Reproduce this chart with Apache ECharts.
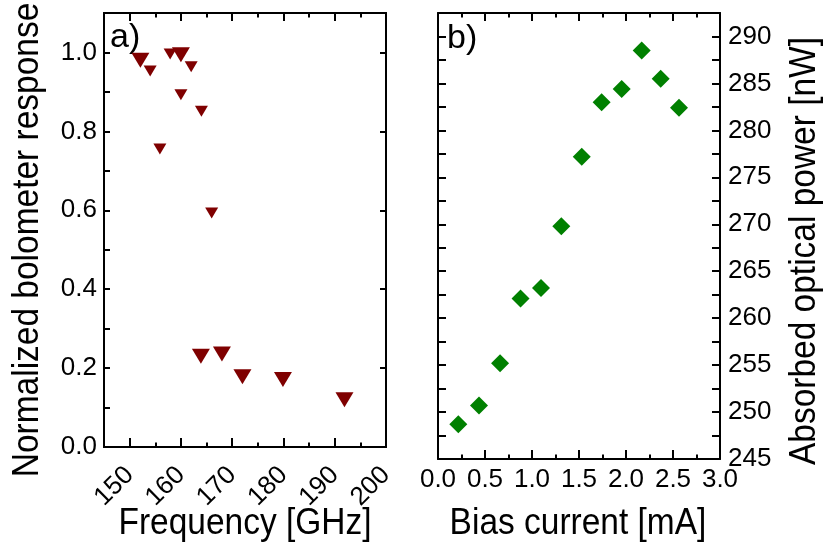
<!DOCTYPE html>
<html>
<head>
<meta charset="utf-8">
<script src="https://cdn.jsdelivr.net/npm/echarts@6/dist/echarts.min.js"></script>
<style>html,body{margin:0;padding:0;background:#fff}#c{width:827px;height:557px}</style>
</head>
<body>
<div id="c"></div>
<script>
// Panel a) : normalized bolometer response vs frequency
var freqLarge = [152.1, 160.0, 163.9, 168.0, 172.0, 179.9, 191.9];
var respLarge = [0.980, 0.994, 0.230, 0.236, 0.178, 0.171, 0.120];
var freqSmall = [154.0, 155.9, 157.9, 160.0, 162.0, 164.0, 166.0];
var respSmall = [0.953, 0.755, 0.996, 0.893, 0.964, 0.851, 0.593];
// Panel b) : absorbed optical power vs bias current
var biasCurrent = [0.216, 0.436, 0.660, 0.878, 1.096, 1.312, 1.529, 1.741, 1.954, 2.167, 2.369, 2.564];
var absorbedPower = [248.7, 250.7, 255.2, 262.1, 263.2, 269.8, 277.2, 283.0, 284.4, 288.5, 285.5, 282.4];
// Tick labels
var freqTicks = [150, 160, 170, 180, 190, 200];
var respTicks = ['0.0', '0.2', '0.4', '0.6', '0.8', '1.0'];
var biasTicks = ['0.0', '0.5', '1.0', '1.5', '2.0', '2.5', '3.0'];
var powerTicks = [245, 250, 255, 260, 265, 270, 275, 280, 285, 290];

var FONT = 'Liberation Sans, Arial, Helvetica, sans-serif';
var BLACK = '#000';
function zip(a, b) { return a.map(function (v, i) { return [v, b[i]]; }); }
function line() { return { show: true, onZero: false, lineStyle: { color: BLACK, width: 2 } }; }
function ticks(len) { return { show: true, inside: true, length: len, lineStyle: { color: BLACK, width: 2 } }; }
function noLabel() { return { show: false }; }
var labelStyle = { color: BLACK, fontSize: 26, fontFamily: FONT };

var chart = echarts.init(document.getElementById('c'), null, { renderer: 'canvas' });
var option = {
  animation: false,
  backgroundColor: '#fff',
  grid: [
    { left: 104, top: 13, width: 282, height: 434, containLabel: false, outerBoundsMode: 'none' },
    { left: 438, top: 13, width: 282, height: 446, containLabel: false, outerBoundsMode: 'none' }
  ],
  xAxis: [
    { gridIndex: 0, type: 'value', position: 'bottom', min: 145, max: 200,
      axisLine: line(), axisTick: ticks(9), splitLine: { show: false },
      axisLabel: Object.assign({ rotate: 45, margin: 24, formatter: function (v) {
        return freqTicks.indexOf(Math.round(v)) >= 0 && Math.abs(v - Math.round(v)) < 1e-6 ? String(Math.round(v)) : ''; } }, labelStyle) },
    { gridIndex: 0, type: 'value', position: 'bottom', min: 145, max: 200, interval: 5,
      axisLine: line(), axisTick: ticks(4.5), splitLine: { show: false }, axisLabel: noLabel() },
    { gridIndex: 0, type: 'value', position: 'top', min: 145, max: 200,
      axisLine: line(), axisTick: ticks(8), splitLine: { show: false }, axisLabel: noLabel() },
    { gridIndex: 0, type: 'value', position: 'top', min: 145, max: 200, interval: 5,
      axisLine: line(), axisTick: ticks(4.5), splitLine: { show: false }, axisLabel: noLabel() },
    { gridIndex: 1, type: 'value', position: 'bottom', min: 0, max: 3, interval: 0.5,
      axisLine: line(), axisTick: ticks(9), splitLine: { show: false },
      minorTick: { show: true, splitNumber: 2, length: 4.5, lineStyle: { color: BLACK, width: 2 } },
      axisLabel: Object.assign({ margin: 8, formatter: function (v) {
        var s = v.toFixed(1); return biasTicks.indexOf(s) >= 0 ? s : ''; } }, labelStyle) },
    { gridIndex: 1, type: 'value', position: 'top', min: 0, max: 3, interval: 0.5,
      axisLine: line(), axisTick: ticks(8), splitLine: { show: false },
      minorTick: { show: true, splitNumber: 2, length: 4.5, lineStyle: { color: BLACK, width: 2 } },
      axisLabel: noLabel() }
  ],
  yAxis: [
    { gridIndex: 0, type: 'value', position: 'left', min: 0, max: 1.1, interval: 0.1,
      axisLine: line(), axisTick: ticks(6), splitLine: { show: false },
      axisLabel: Object.assign({ margin: 7, formatter: function (v) {
        var s = v.toFixed(1); return respTicks.indexOf(s) >= 0 ? s : ''; } }, labelStyle) },
    { gridIndex: 0, type: 'value', position: 'right', min: 0, max: 1.1, interval: 0.2,
      axisLine: line(), axisTick: ticks(6), splitLine: { show: false }, axisLabel: noLabel() },
    { gridIndex: 1, type: 'value', position: 'left', min: 245, max: 292.5, interval: 2.5,
      axisLine: line(), axisTick: ticks(8), splitLine: { show: false }, axisLabel: noLabel() },
    { gridIndex: 1, type: 'value', position: 'right', min: 245, max: 292.5, interval: 2.5,
      axisLine: line(), axisTick: ticks(8), splitLine: { show: false },
      axisLabel: Object.assign({ margin: 8, formatter: function (v) {
        return (Math.abs(v - Math.round(v)) < 1e-6 && powerTicks.indexOf(Math.round(v)) >= 0) ? String(Math.round(v)) : ''; } }, labelStyle) }
  ],
  series: [
    { type: 'scatter', xAxisIndex: 0, yAxisIndex: 0, data: zip(freqSmall, respSmall),
      symbol: 'triangle', symbolRotate: 180, symbolSize: [13, 11], itemStyle: { color: '#7f0000', opacity: 1 } },
    { type: 'scatter', xAxisIndex: 0, yAxisIndex: 0, data: zip(freqLarge, respLarge),
      symbol: 'triangle', symbolRotate: 180, symbolSize: [18, 15], itemStyle: { color: '#7f0000', opacity: 1 } },
    { type: 'scatter', xAxisIndex: 4, yAxisIndex: 3, data: zip(biasCurrent, absorbedPower),
      symbol: 'diamond', symbolSize: 18, itemStyle: { color: '#008000', opacity: 1 } }
  ],
  graphic: [
    { type: 'text', x: 28, y: 240, rotation: Math.PI / 2, scaleX: 0.93,
      style: { text: 'Normalized bolometer response', fontSize: 36, fontFamily: FONT, fill: BLACK,
        align: 'center', verticalAlign: 'middle', textAlign: 'center', textVerticalAlign: 'middle' } },
    { type: 'text', x: 805, y: 251, rotation: Math.PI / 2, scaleX: 0.93,
      style: { text: 'Absorbed optical power [nW]', fontSize: 36, fontFamily: FONT, fill: BLACK,
        align: 'center', verticalAlign: 'middle', textAlign: 'center', textVerticalAlign: 'middle' } },
    { type: 'text', x: 245, y: 524, scaleX: 0.93,
      style: { text: 'Frequency [GHz]', fontSize: 36, fontFamily: FONT, fill: BLACK,
        align: 'center', verticalAlign: 'middle', textAlign: 'center', textVerticalAlign: 'middle' } },
    { type: 'text', x: 578, y: 524, scaleX: 0.93,
      style: { text: 'Bias current [mA]', fontSize: 36, fontFamily: FONT, fill: BLACK,
        align: 'center', verticalAlign: 'middle', textAlign: 'center', textVerticalAlign: 'middle' } },
    { type: 'text', x: 110, y: 38,
      style: { text: 'a)', fontSize: 34, fontFamily: FONT, fill: BLACK,
        align: 'left', verticalAlign: 'middle', textAlign: 'left', textVerticalAlign: 'middle' } },
    { type: 'text', x: 447, y: 39,
      style: { text: 'b)', fontSize: 34, fontFamily: FONT, fill: BLACK,
        align: 'left', verticalAlign: 'middle', textAlign: 'left', textVerticalAlign: 'middle' } }
  ]
};
chart.setOption(option);
</script>
</body>
</html>
